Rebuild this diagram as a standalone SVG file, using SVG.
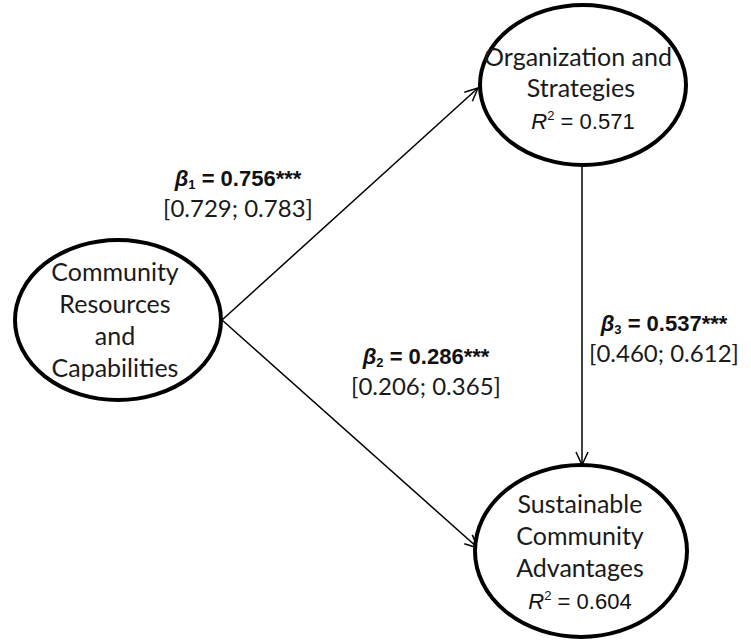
<svg xmlns="http://www.w3.org/2000/svg" width="751" height="642" viewBox="0 0 751 642">
<defs>
<marker id="arr" markerUnits="userSpaceOnUse" markerWidth="16" markerHeight="16" refX="14" refY="8" orient="auto" viewBox="0 0 16 16">
<path d="M1,2 L14,8 L1,14" fill="none" stroke="#000" stroke-width="1.5"/>
</marker>
<style>
.node{fill:#fff;stroke:#000;stroke-width:4}
.lbl{font-family:Lato,"Liberation Sans",sans-serif;font-size:25px;fill:#1a1a1a;text-anchor:middle}
.br{font-family:Lato,"Liberation Sans",sans-serif;font-size:24px;fill:#1a1a1a;text-anchor:middle}
.ar{font-family:"Liberation Sans",Arial,sans-serif;font-size:22px;fill:#111;text-anchor:middle}
.b{font-weight:bold}
.edge{stroke:#000;stroke-width:1.5;fill:none;marker-end:url(#arr)}
.it{font-style:italic}
</style>
</defs>
<rect width="751" height="642" fill="#fff"/>
<g id="connectors">
<line class="edge" x1="222" y1="320" x2="478" y2="88"/>
<line class="edge" x1="222" y1="320" x2="478" y2="548"/>
<line class="edge" x1="582" y1="166" x2="582" y2="465"/>
</g>
<g id="crc">
<ellipse class="node" cx="118" cy="320" rx="103" ry="80"/>
<text class="lbl" x="115" y="281">Community</text>
<text class="lbl" x="115" y="313">Resources</text>
<text class="lbl" x="115" y="345">and</text>
<text class="lbl" x="115" y="377">Capabilities</text>
</g>
<g id="os">
<ellipse class="node" cx="583" cy="85" rx="103" ry="80"/>
<text class="lbl" x="578" y="66">Organization and</text>
<text class="lbl" x="581" y="97">Strategies</text>
<text class="ar" x="583" y="129"><tspan class="it">R</tspan><tspan font-size="13" dy="-9">2</tspan><tspan dy="9"> = 0.571</tspan></text>
</g>
<g id="sca">
<ellipse class="node" cx="581" cy="551" rx="106" ry="86"/>
<text class="lbl" x="580" y="513">Sustainable</text>
<text class="lbl" x="580" y="545">Community</text>
<text class="lbl" x="580" y="577">Advantages</text>
<text class="ar" x="580" y="609"><tspan class="it">R</tspan><tspan font-size="13" dy="-9">2</tspan><tspan dy="9"> = 0.604</tspan></text>
</g>
<g id="labels">
<text class="ar b" x="238" y="186"><tspan class="it">β</tspan><tspan font-size="13" dy="3">1</tspan><tspan dy="-3"> = 0.756***</tspan></text>
<text class="br" x="238" y="217">[0.729; 0.783]</text>
<text class="ar b" x="426" y="364"><tspan class="it">β</tspan><tspan font-size="13" dy="3">2</tspan><tspan dy="-3"> = 0.286***</tspan></text>
<text class="br" x="426" y="395">[0.206; 0.365]</text>
<text class="ar b" x="664" y="331"><tspan class="it">β</tspan><tspan font-size="13" dy="3">3</tspan><tspan dy="-3"> = 0.537***</tspan></text>
<text class="br" x="664" y="362">[0.460; 0.612]</text>
</g>
</svg>
